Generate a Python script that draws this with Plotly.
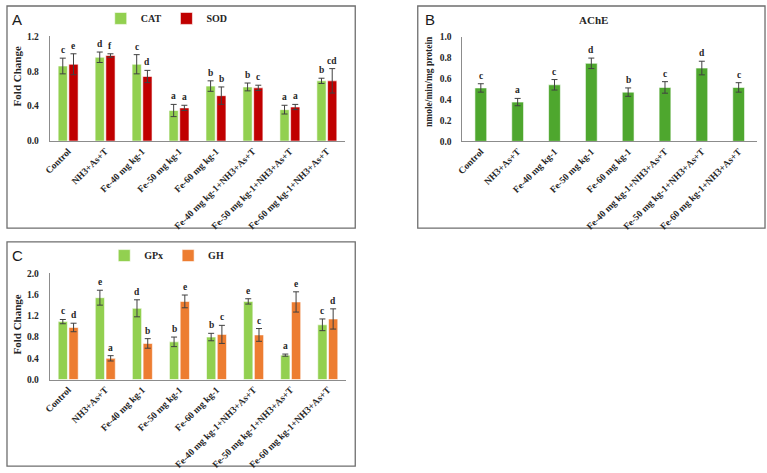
import plotly.graph_objects as go

# ---------------- data ----------------
categories = ["Control", "NH3+As+T", "Fe-40 mg kg-1", "Fe-50 mg kg-1", "Fe-60 mg kg-1",
              "Fe-40 mg kg-1+NH3+As+T", "Fe-50 mg kg-1+NH3+As+T", "Fe-60 mg kg-1+NH3+As+T"]

cat_vals = [0.86, 0.96, 0.88, 0.35, 0.63, 0.62, 0.36, 0.69]
cat_err = [0.09, 0.06, 0.11, 0.07, 0.06, 0.045, 0.05, 0.03]
cat_sig = ["c", "d", "c", "a", "b", "b", "a", "b"]

sod_vals = [0.88, 0.98, 0.74, 0.38, 0.52, 0.61, 0.39, 0.69]
sod_err = [0.12, 0.02, 0.07, 0.03, 0.10, 0.03, 0.03, 0.14]
sod_sig = ["e", "f", "d", "a", "b", "c", "a", "cd"]

ache_vals = [0.51, 0.375, 0.54, 0.745, 0.47, 0.515, 0.70, 0.515]
ache_err = [0.04, 0.035, 0.05, 0.05, 0.04, 0.055, 0.065, 0.045]
ache_sig = ["c", "a", "c", "d", "b", "c", "d", "c"]

gpx_vals = [1.09, 1.54, 1.34, 0.71, 0.80, 1.47, 0.46, 1.03]
gpx_err = [0.04, 0.14, 0.16, 0.09, 0.07, 0.05, 0.02, 0.11]
gpx_sig = ["c", "e", "d", "b", "b", "e", "a", "c"]

gh_vals = [0.98, 0.40, 0.68, 1.47, 0.85, 0.84, 1.46, 1.14]
gh_err = [0.08, 0.05, 0.09, 0.12, 0.17, 0.12, 0.19, 0.19]
gh_sig = ["d", "a", "b", "e", "c", "c", "e", "d"]

y_titles = ["Fold Change", "nmole/min/mg protein", "Fold Change"]
panel_letters = ["A", "B", "C"]
chart_title_b = "AChE"

# ---------------- styling ----------------
W, H = 767, 473
def px(x): return x / W
def py(y): return 1 - y / H

SERIF = "Liberation Serif"
SANS = "Liberation Sans"
TXT = "#262626"
AX = "#8c8c8c"
ERR = "#404040"
C_CAT = "#92d050"
C_SOD = "#c00000"
C_ACHE = "#4ea72e"
C_GPX = "#92d050"
C_GH = "#ed7d31"

xi = list(range(len(categories)))
fig = go.Figure()

def add_bar(vals, err, color, name, xa, ya, offset, width, legend=None, show=True):
    fig.add_trace(go.Bar(
        x=xi, y=vals, name=name, xaxis=xa, yaxis=ya,
        offset=offset, width=width,
        marker=dict(color=color, line=dict(color="white", width=0.6)),
        error_y=dict(type="data", array=err, color=ERR, thickness=1, width=3),
        showlegend=show, legend=legend if legend else "legend",
    ))

BW = 0.25
add_bar(cat_vals, cat_err, C_CAT, "CAT", "x", "y", -0.27, BW, "legend")
add_bar(sod_vals, sod_err, C_SOD, "SOD", "x", "y", 0.02, BW, "legend")
add_bar(ache_vals, ache_err, C_ACHE, "AChE", "x2", "y2", -0.16, 0.32, show=False)
add_bar(gpx_vals, gpx_err, C_GPX, "GPx", "x3", "y3", -0.27, BW, "legend2")
add_bar(gh_vals, gh_err, C_GH, "GH", "x3", "y3", 0.02, BW, "legend2")

tickfont = dict(family=SERIF, size=9.5, color=TXT, weight="bold")

def xaxis(domain, anchor):
    return dict(domain=domain, anchor=anchor, range=[-0.5, 7.5], tickmode="array",
                tickvals=xi, ticktext=categories, tickangle=-45, tickfont=tickfont,
                showline=True, linecolor=AX, linewidth=1, ticks="", showgrid=False,
                zeroline=False, fixedrange=True)

def yaxis(domain, anchor, rng, dtick):
    return dict(domain=domain, anchor=anchor, range=rng, dtick=dtick, tickformat=".1f",
                tickfont=tickfont, showline=True, linecolor=AX, linewidth=1, ticks="",
                showgrid=False, zeroline=False, ticklabelstandoff=8)

annotations = []
def sig_labels(vals, err, sig, offset, width, xref, yref):
    for i, (v, e, s) in enumerate(zip(vals, err, sig)):
        annotations.append(dict(x=i + offset + width / 2, y=v + e, xref=xref, yref=yref,
                                text=s, showarrow=False, yanchor="bottom", yshift=1,
                                font=dict(family=SERIF, size=9.5, color=TXT, weight="bold")))

sig_labels(cat_vals, cat_err, cat_sig, -0.27, BW, "x", "y")
sig_labels(sod_vals, sod_err, sod_sig, 0.02, BW, "x", "y")
sig_labels(ache_vals, ache_err, ache_sig, -0.16, 0.32, "x2", "y2")
sig_labels(gpx_vals, gpx_err, gpx_sig, -0.27, BW, "x3", "y3")
sig_labels(gh_vals, gh_err, gh_sig, 0.02, BW, "x3", "y3")

# y-axis titles (placed as in the source figure)
for text, x, y, size in zip(y_titles, [11.5, 427, 11.5], [72.5, 78, 326], [11, 9.5, 11]):
    annotations.append(dict(x=px(x), y=py(y), xref="paper", yref="paper", text=text,
                            textangle=-90, showarrow=False, xanchor="center", yanchor="middle",
                            font=dict(family=SERIF, size=size, color=TXT, weight="bold")))

for letter, x, y in zip(panel_letters, [11.5, 427.5, 11.5], [14.5, 14.5, 256]):
    annotations.append(dict(x=px(x), y=py(y), xref="paper", yref="paper", text=letter,
                            showarrow=False, xanchor="center", yanchor="middle",
                            font=dict(family=SANS, size=15, color="#1a1a1a")))
annotations.append(dict(x=px(592), y=py(15), xref="paper", yref="paper", text=chart_title_b,
                        showarrow=False, xanchor="center", yanchor="middle",
                        font=dict(family=SERIF, size=11, color=TXT, weight="bold")))

shapes = []
for x0, y0, x1, y1 in [(1, 1, 352, 228), (415, 1, 765, 228), (1, 242, 352, 471)]:
    shapes.append(dict(type="rect", xref="paper", yref="paper", x0=px(x0), x1=px(x1),
                       y0=py(y1), y1=py(y0), line=dict(color="#6e6e6e", width=1.3),
                       fillcolor="rgba(0,0,0,0)", layer="below"))

legfont = dict(family=SERIF, size=10, color=TXT, weight="bold")
fig.update_layout(
    width=W, height=H, margin=dict(l=0, r=0, t=0, b=0),
    paper_bgcolor="white", plot_bgcolor="white", barmode="overlay",
    xaxis=xaxis([px(44), px(342)], "y"),
    yaxis=yaxis([py(139), py(32)], "x", [0, 1.2], 0.4),
    xaxis2=xaxis([px(460), px(757)], "y2"),
    yaxis2=yaxis([py(139.3), py(32.3)], "x2", [0, 1.0], 0.2),
    xaxis3=xaxis([px(44), px(343)], "y3"),
    yaxis3=yaxis([py(382.7), py(274)], "x3", [0, 2.0], 0.4),
    legend=dict(orientation="h", x=px(162), xanchor="center", y=py(13.7), yanchor="middle",
                font=legfont, itemwidth=30, bgcolor="rgba(0,0,0,0)", traceorder="normal"),
    legend2=dict(orientation="h", x=px(162), xanchor="center", y=py(256), yanchor="middle",
                 font=legfont, itemwidth=30, bgcolor="rgba(0,0,0,0)", traceorder="normal"),
    annotations=annotations, shapes=shapes, showlegend=True,
)

fig.write_html("out.html")
